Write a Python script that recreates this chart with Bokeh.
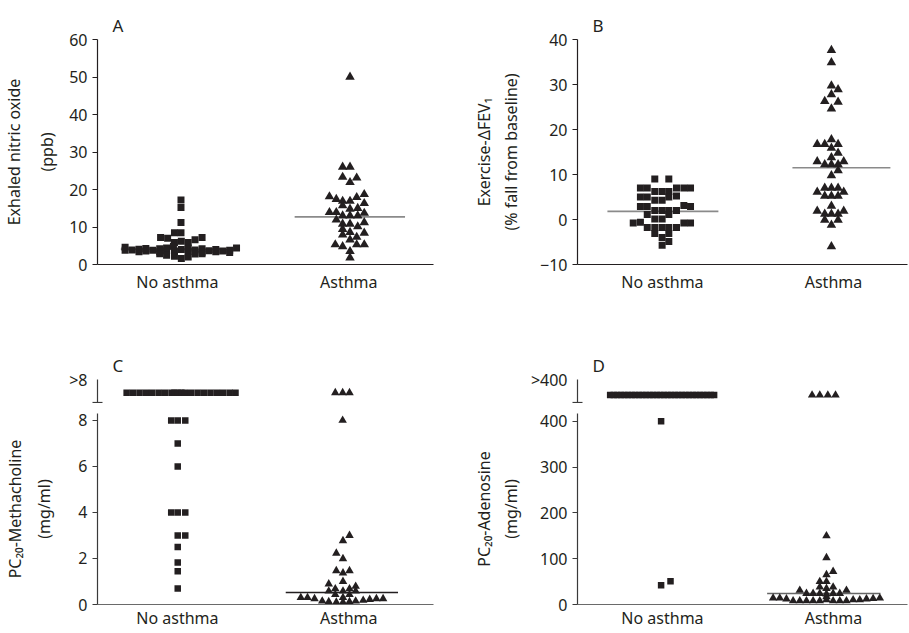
from bokeh.plotting import figure
from bokeh.layouts import column, row
from bokeh.models import Range1d, FixedTicker
from bokeh.embed import file_html
from bokeh.resources import INLINE

# ---------------- data ----------------
categories = ["No asthma", "Asthma"]
cat_pos = [1, 2]

# Panel A: exhaled nitric oxide (ppb); dx = beeswarm offset in category units
a_no_dx = [0.021, 0.021, 0.021, -0.017, 0.021,
           -0.098, -0.057, -0.017, 0.023, 0.063, 0.103, 0.144,
           -0.305, -0.305, -0.264, -0.224, -0.224, -0.184, -0.184, -0.144, -0.103, -0.103, -0.063, -0.063,
           -0.023, -0.017, 0.023, 0.063, 0.063, 0.103, 0.144, 0.144, 0.184, 0.224, 0.224, 0.264, 0.305, 0.305, 0.345,
           -0.103, -0.063, -0.017, 0.023, 0.063, 0.103, 0.144]
a_no_val = [17.2, 15.2, 11.2, 8.5, 8.5,
            7.2, 7.0, 5.9, 6.2, 5.9, 6.6, 7.2,
            4.6, 3.8, 3.9, 3.4, 4.1, 3.6, 4.3, 3.8, 4.2, 3.4, 3.7, 4.4,
            4.9, 3.6, 4.0, 4.4, 3.5, 3.9, 4.2, 3.3, 3.7, 3.4, 4.0, 3.6, 3.8, 3.2, 4.4,
            2.9, 2.5, 2.2, 1.6, 2.0, 2.8, 2.9]
a_as_dx = [0.007, -0.036, 0.007, -0.036, 0.046, 0.007,
           -0.113, -0.073, 0.09, 0.046, -0.036, 0.007, 0.09, -0.036, 0.007, 0.052,
           -0.113, -0.073, 0.09, -0.036, 0.007, 0.052,
           -0.073, 0.09, -0.036, 0.007, 0.052, -0.036, 0.007, -0.036, 0.09, 0.046, 0.007,
           -0.079, -0.036, 0.046, 0.09, 0.007, 0.007]
a_as_val = [50.0, 26.0, 26.0, 23.3, 23.1, 21.9,
            18.1, 17.4, 18.7, 17.9, 16.9, 16.9, 16.3, 15.7, 14.8, 15.0,
            13.9, 13.9, 13.7, 13.0, 13.0, 13.0,
            11.9, 11.2, 10.8, 10.8, 10.1, 9.4, 8.6, 7.9, 8.4, 7.3, 6.6,
            5.3, 4.8, 5.3, 5.3, 3.5, 1.8]
a_median = [4.1, 12.7]
a_yticks = [0, 10, 20, 30, 40, 50, 60]

# Panel B: exercise-induced fall in FEV1 (%)
b_no_dx = [-0.045, 0.037,
           -0.129, -0.089, 0.082, 0.125, 0.164,
           -0.045, -0.002, 0.037,
           -0.129, -0.089, 0.037, 0.082,
           -0.045, -0.002,
           -0.129, -0.089, 0.125, 0.164,
           -0.045, -0.002, 0.037, 0.082,
           -0.089, 0.037,
           -0.045, -0.002,
           -0.171, -0.129, 0.125, 0.164,
           -0.089, -0.045, -0.002, 0.037, 0.082,
           -0.045, 0.037,
           -0.002,
           0.037, -0.002]
b_no_val = [9.0, 9.0,
            7.0, 7.0, 7.0, 7.0, 7.0,
            6.2, 6.2, 6.2,
            5.0, 5.0, 5.0, 5.2,
            4.3, 4.3,
            2.9, 2.9, 3.1, 2.9,
            2.0, 2.0, 2.0, 2.0,
            1.1, 1.1,
            0.1, 0.1,
            -0.8, -0.6, -0.8, -0.8,
            -1.8, -1.8, -1.8, -1.8, -1.8,
            -3.1, -3.1,
            -4.0,
            -4.9, -5.7]
b_as_dx = [-0.012, -0.012, -0.012, 0.027, -0.012, -0.051, 0.027, -0.012,
           -0.012, -0.095, -0.051, 0.027, -0.012, 0.027, -0.012, -0.095, 0.06, -0.051, -0.012, 0.027, 0.027, -0.012,
           -0.051, -0.012, 0.027, -0.095, 0.06, -0.051, -0.012, 0.027, -0.012, -0.095, 0.06, -0.051, -0.012, 0.027,
           -0.051, 0.027, -0.012, -0.012]
b_as_val = [37.6, 34.9, 29.7, 28.9, 27.8, 26.3, 26.1, 24.6,
            17.8, 16.7, 16.7, 16.7, 15.9, 14.8, 13.8, 12.9, 12.9, 12.2, 12.2, 12.2, 10.9, 9.8,
            7.0, 7.0, 7.0, 6.1, 6.1, 5.2, 5.2, 5.2, 3.0, 1.9, 1.9, 1.2, 1.2, 1.2,
            -0.1, -0.1, -1.2, -6.0]
b_median = [1.8, 11.5]
b_yticks = [-10, 0, 10, 20, 30, 40]

# Panel C: PC20 methacholine (mg/ml); ">8" = above highest dose
c_no_dx = [-0.296, -0.259, -0.221, -0.184, -0.147, -0.109, -0.072, -0.034, -0.017, 0.003,
           0.023, 0.043, 0.080, 0.118, 0.155, 0.193, 0.230, 0.267, 0.305, 0.339,
           -0.036, 0.002, 0.046, 0.002, 0.002, -0.036, 0.002, 0.046, 0.002, 0.046, 0.002, 0.002, 0.002, 0.002]
c_no_val = [">8", ">8", ">8", ">8", ">8", ">8", ">8", ">8", ">8", ">8",
            ">8", ">8", ">8", ">8", ">8", ">8", ">8", ">8", ">8", ">8",
            8.0, 8.0, 8.0, 7.0, 6.0, 4.0, 4.0, 4.0, 3.0, 3.0, 2.5, 1.83, 1.44, 0.69]
c_as_dx = [-0.079, -0.036, 0.004, -0.036,
           0.004, -0.034, -0.073, -0.034, -0.073, 0.004, -0.034, -0.117, -0.034, 0.04, -0.079, 0.004,
           -0.117, -0.034, 0.04, -0.079, 0.004,
           -0.28, -0.241, -0.2, -0.155, -0.117, -0.073, -0.034, -0.034, 0.004, 0.04, 0.084, 0.122, 0.161, 0.2]
c_as_val = [">8", ">8", ">8", 8.0,
            3.0, 2.77, 2.23, 1.99, 1.47, 1.47, 1.37, 0.89, 1.0, 0.79, 0.68, 0.68,
            0.58, 0.58, 0.58, 0.43, 0.43,
            0.3, 0.3, 0.25, 0.15, 0.12, 0.1, 0.3, 0.1, 0.12, 0.15, 0.18, 0.22, 0.25, 0.25]
c_median = [None, 0.52]
c_yticks = [0, 2, 4, 6, 8]

# Panel D: PC20 adenosine (mg/ml); ">400" = above highest dose
d_no_dx = [-0.306, -0.285, -0.264, -0.243, -0.222, -0.201, -0.180, -0.159, -0.138, -0.117,
           -0.096, -0.075, -0.054, -0.033, -0.012, 0.009, 0.030, 0.051, 0.072, 0.093,
           0.114, 0.135, 0.156, 0.177, 0.198, 0.219, 0.240, 0.261, 0.282, 0.302,
           -0.008, -0.008, 0.047]
d_no_val = [">400", ">400", ">400", ">400", ">400", ">400", ">400", ">400", ">400", ">400",
            ">400", ">400", ">400", ">400", ">400", ">400", ">400", ">400", ">400", ">400",
            ">400", ">400", ">400", ">400", ">400", ">400", ">400", ">400", ">400", ">400",
            400, 42, 51]
d_as_dx = [-0.125, -0.08, -0.033, 0.012,
           -0.041, -0.041, -0.002, -0.041, -0.08, -0.041, -0.08, -0.002, -0.041, -0.197, 0.076,
           -0.158, -0.119, -0.08, -0.041, -0.002, 0.037, -0.041,
           -0.353, -0.314, -0.275, -0.236, -0.197, -0.158, -0.119, -0.08, -0.041, -0.002, 0.037,
           0.076, 0.115, 0.154, 0.193, 0.232, 0.271]
d_as_val = [">400", ">400", ">400", ">400",
            150, 102, 72, 65, 50, 50, 38, 38, 35, 31, 31,
            24, 24, 24, 23, 24, 24, 17,
            14, 14, 12, 8, 8, 8, 8, 8, 10, 8, 8, 8, 10, 10, 12, 13, 14]
d_median = [None, 24]
d_yticks = [0, 100, 200, 300, 400]

# ---------------- styling ----------------
FONT = "Noto Sans"
INK = "#231f20"
FS = "16px"


def base_fig(width, height, borders, xr, yr, title=None, x_axis=True):
    bl, br, bt, bb = borders
    kw = {}
    if title is None:
        kw["title_location"] = None
    if not x_axis:
        kw["x_axis_location"] = None
    p = figure(width=width, height=height, output_backend="svg", toolbar_location=None,
               x_range=Range1d(*xr), y_range=Range1d(*yr),
               min_border_left=bl, min_border_right=br, min_border_top=bt, min_border_bottom=bb, **kw)
    p.outline_line_color = None
    p.grid.visible = False
    p.background_fill_color = "white"
    p.border_fill_color = "white"
    if title is not None:
        p.title.text = title
        p.title.text_font = FONT
        p.title.text_font_size = "17px"
        p.title.text_font_style = "normal"
        p.title.text_color = INK
        p.title.align = "left"
        p.title.offset = 15
        p.title.standoff = 6
    return p


def style_xaxis(p, axis_color, standoff):
    xa = p.xaxis[0]
    xa.ticker = FixedTicker(ticks=cat_pos)
    xa.major_label_overrides = {c: n for c, n in zip(cat_pos, categories)}
    xa.major_tick_line_color = None
    xa.major_tick_out = 0
    xa.major_tick_in = 0
    xa.minor_tick_line_color = None
    xa.axis_line_color = axis_color
    xa.axis_line_width = 1.2
    xa.major_label_standoff = standoff
    xa.major_label_text_font = FONT
    xa.major_label_text_font_size = FS
    xa.major_label_text_color = INK


def style_yaxis(p, axis_color, ticks, label=None, standoff=8, overrides=None, line_height=1.5):
    ya = p.yaxis[0]
    ya.ticker = FixedTicker(ticks=ticks)
    ya.minor_tick_line_color = None
    ya.major_tick_in = 0
    ya.major_tick_out = 5
    ya.major_tick_line_color = axis_color
    ya.axis_line_color = axis_color
    ya.axis_line_width = 1.2
    ya.major_label_text_font = FONT
    ya.major_label_text_font_size = FS
    ya.major_label_text_color = INK
    if label:
        ya.axis_label = label
        ya.axis_label_text_font = FONT
        ya.axis_label_text_font_size = FS
        ya.axis_label_text_font_style = "normal"
        ya.axis_label_text_color = INK
        ya.axis_label_standoff = standoff
        ya.axis_label_text_line_height = line_height
    if overrides:
        ya.major_label_overrides = overrides


def draw(p, no_dx, no_val, as_dx, as_val, medians, med_spans, med_color, sq=7, tri=9.5):
    for c, m, (lo, hi) in zip(cat_pos, medians, med_spans):
        if m is None:
            continue
        p.segment(x0=[c + lo], y0=[m], x1=[c + hi], y1=[m], line_color=med_color, line_width=1.6)
    if no_val:
        p.scatter([cat_pos[0] + d for d in no_dx], no_val, marker="square", size=sq,
                  fill_color=INK, line_color=None)
    if as_val:
        p.scatter([cat_pos[1] + d for d in as_dx], as_val, marker="triangle", size=tri,
                  fill_color=INK, line_color=None)


def split(dx, vals):
    num_dx = [d for d, v in zip(dx, vals) if not isinstance(v, str)]
    num_v = [v for v in vals if not isinstance(v, str)]
    top_dx = [d for d, v in zip(dx, vals) if isinstance(v, str)]
    return num_dx, num_v, top_dx


# Row 1 ---------------------------------------------------------------
XR_L = (0.534, 2.494)
XR_R = (0.503, 2.433)
W_L, W_R = 453, 456
BL_L, BR_L = 92, 20
BL_R, BR_R = 124, 2

pa = base_fig(W_L, 295, (BL_L, BR_L, 38, 30), XR_L, (0, 60), title="A")
style_xaxis(pa, INK, 6)
style_yaxis(pa, INK, a_yticks, "Exhaled nitric oxide\n(ppb)", 8)
draw(pa, a_no_dx, a_no_val, a_as_dx, a_as_val, a_median,
     [(-0.33, 0.35), (-0.316, 0.328)], "#8a8a8a")

pb = base_fig(W_R, 295, (BL_R, BR_R, 39, 29), XR_R, (-10, 40), title="B")
style_xaxis(pb, INK, 6)
style_yaxis(pb, INK, b_yticks, "Exercise-ΔFEV₁\n(% fall from baseline)", 15,
            overrides={-10: "−10"}, line_height=1.25)
draw(pb, b_no_dx, b_no_val, b_as_dx, b_as_val, b_median,
     [(-0.322, 0.327), (-0.24, 0.333)], "#8a8a8a")


# Row 2 (broken y axis: a narrow strip for values above the highest dose) ----
def broken_panel(letter, width, bl, br, xr, low_yr, top_yr, brk, top_mark, top_label, yticks, ylabel,
                 lstand, lheight, no_dx, no_val, as_dx, as_val, medians, med_spans, med_color):
    AX = "#3a3a3a"
    n_dx, n_v, n_top = split(no_dx, no_val)
    a_dx, a_v, a_top = split(as_dx, as_val)

    top = base_fig(width, 108, (bl, br, 84, 0), xr, top_yr, title=letter, x_axis=False)
    style_yaxis(top, AX, [top_yr[1]], overrides={top_yr[1]: top_label})
    ya = top.yaxis[0]
    ya.bounds = (brk, top_yr[1])
    ya.ticker = FixedTicker(ticks=[top_yr[1]], minor_ticks=[brk])
    ya.major_tick_out = 0
    ya.minor_tick_line_color = AX
    ya.minor_tick_line_width = 1.2
    ya.minor_tick_in = 5
    ya.minor_tick_out = 5
    draw(top, n_top, [top_mark] * len(n_top), a_top, [top_mark] * len(a_top),
         [None, None], med_spans, med_color, sq=6.5, tri=8.5)

    low = base_fig(width, 228, (bl, br, 10, 26), xr, low_yr)
    style_xaxis(low, "#6a6a6a", 2)
    style_yaxis(low, AX, yticks, ylabel, lstand, line_height=lheight)
    draw(low, n_dx, n_v, a_dx, a_v, medians, med_spans, med_color, sq=6.5, tri=8.5)
    return column(top, low)


pc = broken_panel("C", W_L, BL_L, BR_L, XR_L, (0, 8.3), (8.70, 9.77), 8.74, 9.18, ">8", c_yticks,
                  "PC₂₀-Methacholine\n(mg/ml)", 20, 1.35,
                  c_no_dx, c_no_val, c_as_dx, c_as_val, c_median,
                  [(0, 0), (-0.368, 0.287)], "#231f20")
pd = broken_panel("D", W_R, BL_R, BR_R, XR_R, (0, 417), (437, 491), 439, 456, ">400", d_yticks,
                  "PC₂₀-Adenosine\n(mg/ml)", 15, 1.25,
                  d_no_dx, d_no_val, d_as_dx, d_as_val, d_median,
                  [(0, 0), (-0.388, 0.275)], "#666666")

layout = column(row(pa, pb), row(pc, pd))
open("out.html", "w").write(file_html(layout, INLINE))
